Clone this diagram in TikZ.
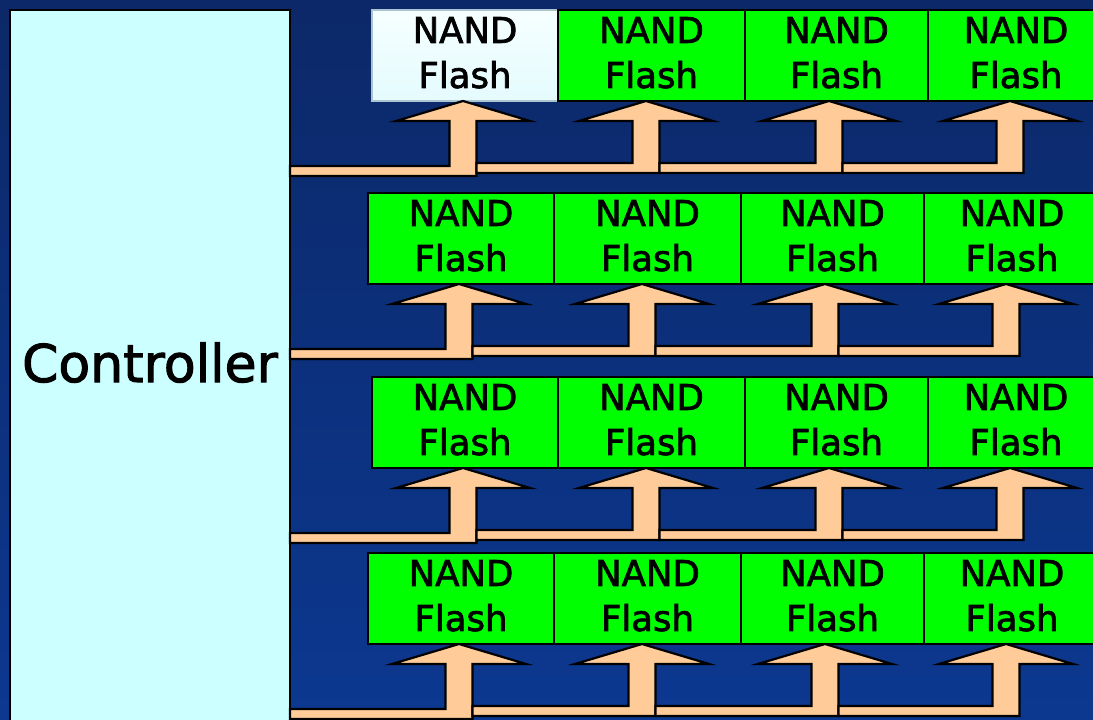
\documentclass[tikz,border=0pt]{standalone}
\usepackage{fontspec}
\setmainfont{DejaVu Sans}[FakeBold=2]
\usepackage{xcolor}
\usetikzlibrary{calc}

\definecolor{navytop}{RGB}{12,40,104}
\definecolor{navybot}{RGB}{12,56,144}
\definecolor{ctrlcyan}{RGB}{204,255,255}
\definecolor{chipgreen}{RGB}{0,255,0}
\definecolor{busorange}{RGB}{255,204,153}
\definecolor{paletop}{RGB}{246,255,255}
\definecolor{palebot}{RGB}{228,251,254}
\definecolor{paleedge}{RGB}{170,196,208}

\tikzset{
  ctrl/.style={draw=black, line width=2.5pt, fill=ctrlcyan, minimum width=280pt,
    minimum height=720pt, inner sep=0pt, outer sep=0pt,
    font=\fontsize{52}{60}\selectfont, text depth=15.5pt},
  chip/.style={draw=black, line width=2.4pt, fill=chipgreen, minimum height=91pt,
    inner sep=0pt, outer sep=0pt, align=center,
    font=\fontsize{35.5}{45}\selectfont, text depth=6pt},
  blankchip/.style={chip, draw=paleedge, top color=paletop, bottom color=palebot},
  bus/.style={draw=black, line width=2.2pt, fill=busorange}
}

\begin{document}
\begin{tikzpicture}[x=1pt,y=-1pt]
    % Background
    \useasboundingbox (0,0) rectangle (1093,720);
    \clip (0,0) rectangle (1093,720);
    \shade[top color=navytop, bottom color=navybot] (0,0) rectangle (1093,720);
    % Controller
    \node[ctrl] (ctrl) at (150,370) {Controller};
    % Flash chips, four rows of four
    \foreach \r/\ytop/\dx in {1/10/0, 2/193/-4, 3/377/0, 4/553/-4} {
        \foreach \c/\lx/\w/\shiftx in {1/372/186/-2, 2/558/187/-5.5, 3/745/183/-7.5, 4/928/176/-6} {
            \ifnum\r\c=11 \def\look{blankchip}\else\def\look{chip}\fi
            \node[\look, minimum width=\w pt, anchor=north west] (f\r\c) at ({\lx+\dx},\ytop) {NAND\\Flash};
            \coordinate (tip\r\c) at ($(f\r\c.south)+(\shiftx,0)$);
        }
    }
    % Bus arrows from the controller to each chip
    \foreach \r in {1,...,4} {
        \coordinate (src\r1) at ($(ctrl.east |- tip\r1)+(0,75)$);
        \foreach \c [evaluate=\c as \prevc using int(\c-1)] in {2,3,4}
            \coordinate (src\r\c) at ($(tip\r\prevc)+(13.5,72)$);
        \foreach \c in {1,...,4}
            \draw[bus] (tip\r\c) -- ++(67,20) -- ++(-53.5,0) |- (src\r\c) -- ++(0,-10)
                -| ($(tip\r\c)+(-13.5,20)$) -- ++(-53.5,0) -- cycle;
    }
\end{tikzpicture}
\end{document}
